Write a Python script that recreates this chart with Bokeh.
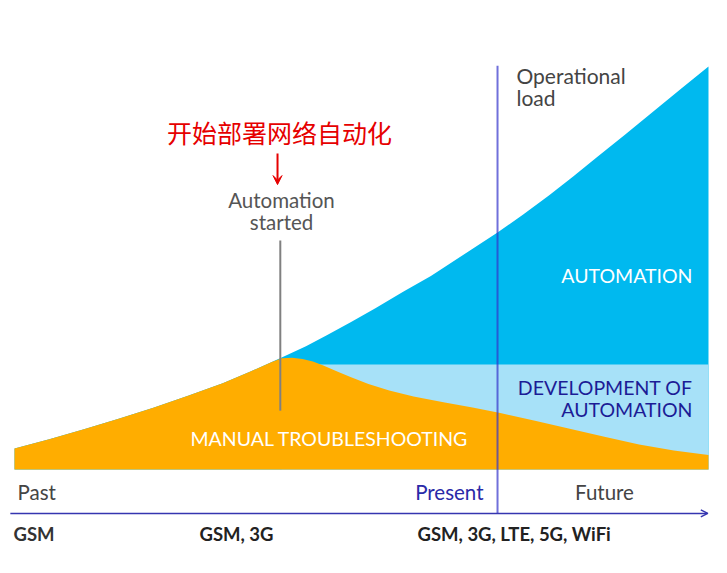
from bokeh.plotting import figure
from bokeh.models import Range1d, Arrow, OpenHead, VeeHead
from bokeh.core.properties import value
from bokeh.embed import file_html
from bokeh.resources import INLINE

# ---- data (time 0..100, operational load 0..100) ----
total_t = [0, 5, 10, 15, 20, 25, 30, 34, 38.5, 42, 45, 48.5, 52, 56, 60, 64.8,
           69.6, 73.3, 77, 80.5, 84, 88, 92, 96, 100]
total_load = [5.2, 7.5, 10.0, 12.6, 15.3, 18.3, 21.4, 24.3, 27.8, 30.6, 33.3, 36.6,
              40.0, 44.1, 48.0, 53.4, 58.8, 63.3, 68.0, 72.7, 77.6, 83.1, 88.8, 94.4, 100]

manual_t = [0, 5, 10, 15, 20, 25, 30, 34, 37, 38.5, 40, 41.5, 43, 44.5, 46.5, 48.5, 51,
            54, 57.5, 62, 66, 70, 75, 80, 85, 90, 95, 100]
manual_load = [5.2, 7.5, 10.0, 12.6, 15.3, 18.3, 21.4, 24.3, 26.6, 27.6, 27.7, 27.4,
               26.8, 25.8, 24.3, 22.9, 21.2, 19.6, 18.1, 16.6, 15.4, 14.0, 12.1, 10.1,
               8.1, 6.2, 4.7, 3.6]

dev_t = [38.5, 100]
dev_load = [26.05, 26.05]

automation_start_t = 38.3
present_t = 69.6

era_labels = ["Past", "Present", "Future"]
network_labels = ["GSM", "GSM, 3G", "GSM, 3G, LTE, 5G, WiFi"]

# ---- figure ----
PX_X = 6.94   # px per time unit
PX_Y = 4.03   # px per load unit
p = figure(width=727, height=573, output_backend="svg", toolbar_location=None,
           x_range=Range1d(-14 / PX_X, (727 - 14) / PX_X),
           y_range=Range1d((469 - 573) / PX_Y, 469 / PX_Y),
           x_axis_location=None, y_axis_location=None, min_border=0)
p.grid.visible = False
p.outline_line_color = None
p.background_fill_color = "white"
p.border_fill_color = "white"

ORANGE = "#FFAD00"
BLUE = "#00B9EF"
LIGHT = "#A7E1F8"

p.varea(x=total_t, y1=[0] * len(total_t), y2=total_load, fill_color=BLUE)
p.varea(x=dev_t, y1=[0, 0], y2=dev_load, fill_color=LIGHT)
p.varea(x=manual_t, y1=[0] * len(manual_t), y2=manual_load, fill_color=ORANGE)

# present line
p.line(x=[present_t, present_t], y=[100.2, -10.9], line_color="#3333cc", line_alpha=0.7, line_width=2)
# automation started line
p.line(x=[automation_start_t, automation_start_t], y=[56.8, 14.6], line_color="#808080", line_width=2)

# time axis arrow
p.add_layout(Arrow(end=OpenHead(size=7, line_color="#3535b0", line_width=1.5),
                   x_start=-0.6, y_start=-10.9, x_end=99.9, y_end=-10.9,
                   line_color="#3535b0", line_width=1.5))

# red arrow
p.add_layout(Arrow(end=VeeHead(size=9, fill_color="#e60000", line_color="#e60000"),
                   x_start=37.9, y_start=78.4, x_end=37.9, y_end=70.7,
                   line_color="#e60000", line_width=2))

FONT = value("Lato")

def txt(x, y, s, size, color, align="left", font=FONT, style="normal"):
    p.text(x=[x], y=[y], text=[s], text_font=font, text_font_size=size,
           text_color=color, text_align=align, text_baseline="middle",
           text_font_style=style)

def X(px):
    return (px - 14) / PX_X

def Y(py):
    return (469 - py) / PX_Y

txt(X(279), Y(131), "开始部署网络自动化", "25px", "#e60000", "center",
    font=value("Noto Sans CJK SC"))
txt(X(281), Y(199), "Automation", "20.5px", "#555555", "center")
txt(X(281), Y(221), "started", "20.5px", "#555555", "center")
txt(X(516), Y(75), "Operational", "21px", "#444444")
txt(X(516), Y(97), "load", "21px", "#444444")
txt(X(692), Y(275), "AUTOMATION", "19.5px", "white", "right")
txt(X(692), Y(387), "DEVELOPMENT OF", "19.5px", "#1c1c96", "right")
txt(X(692), Y(409), "AUTOMATION", "19.5px", "#1c1c96", "right")
txt(X(329), Y(438), "MANUAL TROUBLESHOOTING", "19.5px", "white", "center")

txt(X(17), Y(491), era_labels[0], "20.5px", "#444444")
txt(X(483), Y(491), era_labels[1], "20.5px", "#2a2aa8", "right")
txt(X(604), Y(491), era_labels[2], "20.5px", "#444444", "center")

txt(X(13), Y(533), network_labels[0], "18.5px", "#333333", style="bold")
txt(X(236), Y(533), network_labels[1], "18.5px", "#222222", "center", style="bold")
txt(X(417), Y(533), network_labels[2], "18.5px", "#222222", style="bold")

open("out.html", "w").write(file_html(p, INLINE))
